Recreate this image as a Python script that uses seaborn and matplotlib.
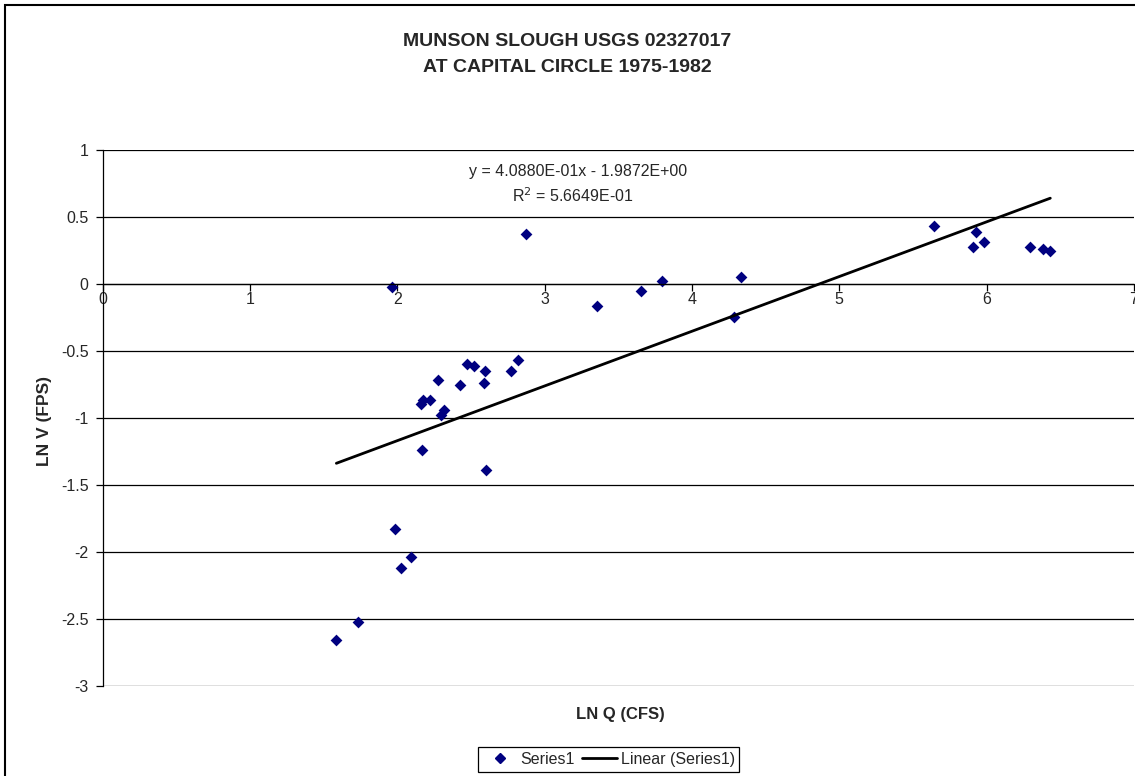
import matplotlib
matplotlib.use('Agg')
import matplotlib.pyplot as plt
import matplotlib.patches as patches
import numpy as np
import pandas as pd
import seaborn as sns

# LN Q (CFS) and LN V (FPS)
ln_q = [1.963, 2.471, 2.522, 2.599, 2.820, 2.769, 2.274, 2.425, 2.590, 2.222,
        2.177, 2.161, 2.319, 2.297, 2.170, 2.604, 1.983, 2.093, 2.026, 1.734,
        1.587, 3.354, 3.654, 3.799, 4.336, 4.286, 2.873, 5.646, 5.928, 5.982,
        5.910, 6.296, 6.380, 6.432]
ln_v = [-0.020, -0.595, -0.614, -0.652, -0.565, -0.652, -0.716, -0.754, -0.736, -0.868,
        -0.863, -0.896, -0.943, -0.975, -1.236, -1.388, -1.831, -2.037, -2.122, -2.527,
        -2.659, -0.162, -0.050, 0.027, 0.055, -0.244, 0.373, 0.433, 0.386, 0.318,
        0.274, 0.274, 0.261, 0.244]

# trendline from the chart's equation
slope = 0.40880
intercept = -1.9872
r2_text = '5.6649E-01'

x_ticks = [0, 1, 2, 3, 4, 5, 6, 7]
y_ticks = [1, 0.5, 0, -0.5, -1, -1.5, -2, -2.5, -3]

df = pd.DataFrame({'lnq': ln_q, 'lnv': ln_v})

sns.set_style('white')
plt.rcParams['font.family'] = ['Liberation Sans', 'DejaVu Sans']

W, H = 1135, 776
fig = plt.figure(figsize=(W / 100, H / 100), dpi=100)
# plot area runs past the right edge of the picture, as in the original export
ax = fig.add_axes([102.5 / W, 1 - 685.7 / H, 1031.5 / W, 535.4 / H])

sns.scatterplot(data=df, x='lnq', y='lnv', marker='D', color='#000080', s=36,
                edgecolor='#000080', linewidth=0, ax=ax, legend=False, clip_on=False)

xl = np.array([min(ln_q), max(ln_q)])
ax.plot(xl, slope * xl + intercept, color='black', lw=2)

ax.set_xlim(0, 7)
ax.set_ylim(-3, 1)
ax.set_xticks(x_ticks)
ax.set_yticks(y_ticks)
ax.set_yticklabels([('%g' % v) for v in y_ticks])
ax.grid(axis='y', color='black', lw=0.9)
ax.grid(axis='x', visible=False)
for s in ['top', 'right']:
    ax.spines[s].set_visible(False)
ax.spines['bottom'].set_position(('data', 0))
ax.spines['bottom'].set_color('black')
ax.spines['left'].set_color('black')
ax.spines['bottom'].set_linewidth(0.9)
ax.spines['left'].set_linewidth(0.9)
ax.tick_params(axis='both', direction='out', length=5, width=0.9, color='black',
               labelsize=11.5, bottom=True, left=True)
ax.tick_params(axis='x', pad=1)
ax.tick_params(axis='y', pad=5)
ax.set_xlabel('')
ax.set_ylabel('')
ax.set_axisbelow(True)

ax.text(3.23, 0.839, 'y = 4.0880E-01x - 1.9872E+00', ha='center', va='center', fontsize=11.5)
ax.text(3.19, 0.660, 'R$^2$ = ' + r2_text, ha='center', va='center', fontsize=11.5)

fig.text(567 / W, 1 - 42 / H, 'MUNSON SLOUGH USGS 02327017', ha='center', va='center',
         fontsize=14, fontweight='bold')
fig.text(567 / W, 1 - 68 / H, 'AT CAPITAL CIRCLE 1975-1982', ha='center', va='center',
         fontsize=14, fontweight='bold')
fig.text(620 / W, 1 - 715 / H, 'LN Q (CFS)', ha='center', va='center',
         fontsize=12, fontweight='bold')
fig.text(44 / W, 1 - 421 / H, 'LN V (FPS)', ha='center', va='center', rotation=90,
         fontsize=12.5, fontweight='bold')

handles = [plt.Line2D([], [], marker='D', color='#000080', ls='none', markersize=5),
           plt.Line2D([], [], color='black', lw=2)]
leg = fig.legend(handles, ['Series1', 'Linear (Series1)'], loc='center',
                 bbox_to_anchor=(608.5 / W, 1 - 759.5 / H), ncol=2, fontsize=11.5,
                 frameon=True, fancybox=False, edgecolor='black', framealpha=1,
                 handlelength=2.2, columnspacing=0.45, handletextpad=0.2, borderpad=0.3)
leg.get_frame().set_linewidth(0.9)

border = patches.Rectangle((5 / W, -0.1), 1.2, 1.1 - 5 / H, transform=fig.transFigure,
                           fill=False, edgecolor='black', lw=1.5, clip_on=False)
fig.patches.append(border)

fig.savefig('out.png', dpi=100, facecolor='white')
